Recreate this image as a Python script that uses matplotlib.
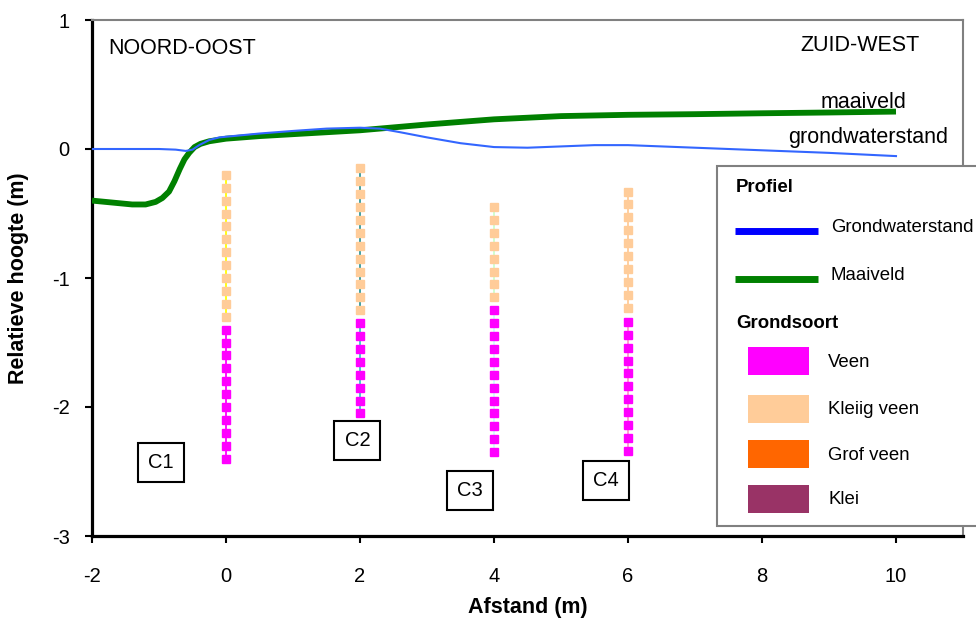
import matplotlib.pyplot as plt
from matplotlib.lines import Line2D
from matplotlib.patches import Rectangle

plt.rcParams["font.family"] = ["Liberation Sans", "DejaVu Sans"]
plt.rcParams["axes.unicode_minus"] = False

# maaiveld en grondwaterstand langs het profiel
afstand_gw = [-2, -1, -0.75, -0.6, -0.5, -0.4, -0.25, -0.1, 0.2, 0.5, 1, 1.5, 2, 2.3, 2.6, 3,
              3.5, 4, 4.5, 5, 5.5, 6, 7, 8, 9, 10]
grondwater = [0, 0, -0.005, -0.015, -0.005, 0.03, 0.07, 0.09, 0.105, 0.12, 0.14, 0.158, 0.165,
              0.158, 0.13, 0.09, 0.045, 0.015, 0.01, 0.02, 0.03, 0.03, 0.01, -0.01, -0.03,
              -0.055]

afstand_mv = [-2, -1.7, -1.4, -1.2, -1.05, -0.95, -0.85, -0.77, -0.69, -0.62, -0.55, -0.47,
              -0.38, -0.25, -0.1, 0, 0.5, 1, 2, 3, 4, 5, 6, 7, 8, 9, 10]
maaiveld = [-0.40, -0.415, -0.43, -0.43, -0.41, -0.38, -0.33, -0.25, -0.155, -0.08, -0.03,
            0.015, 0.04, 0.06, 0.072, 0.08, 0.10, 0.115, 0.145, 0.19, 0.23, 0.255, 0.265, 0.27,
            0.277, 0.283, 0.29]

# boringen: positie en diepte van de monsters per grondsoort
boringen = ["C1", "C2", "C3", "C4"]
boring_x = [0, 2, 4, 6]
kleiig_veen = [
    [-0.2, -0.3, -0.4, -0.5, -0.6, -0.7, -0.8, -0.9, -1.0, -1.1, -1.2, -1.3],
    [-0.15, -0.25, -0.35, -0.45, -0.55, -0.65, -0.75, -0.85, -0.95, -1.05, -1.15, -1.25],
    [-0.45, -0.55, -0.65, -0.75, -0.85, -0.95, -1.05, -1.15],
    [-0.33, -0.43, -0.53, -0.63, -0.73, -0.83, -0.93, -1.03, -1.13, -1.23],
]
veen = [
    [-1.4, -1.5, -1.6, -1.7, -1.8, -1.9, -2.0, -2.1, -2.2, -2.3, -2.4],
    [-1.35, -1.45, -1.55, -1.65, -1.75, -1.85, -1.95, -2.05],
    [-1.25, -1.35, -1.45, -1.55, -1.65, -1.75, -1.85, -1.95, -2.05, -2.15, -2.25, -2.35],
    [-1.34, -1.44, -1.54, -1.64, -1.74, -1.84, -1.94, -2.04, -2.14, -2.24, -2.34],
]
lijn_kleiig = ["#FFFF00", "#339999", "#CCFFCC", "#FFCC99"]
lijn_veen = ["#FF00FF", "#33CCCC", "#CCFFFF", "#FF99CC"]
label_x = [-0.97, 1.96, 3.64, 5.67]
label_y = [-2.43, -2.26, -2.65, -2.57]

W, H = 976, 624
fig = plt.figure(figsize=(W / 100, H / 100), dpi=100)
ax = fig.add_axes([92 / W, 1 - 536 / H, 871 / W, 516 / H])

for i in range(len(boringen)):
    xs = [boring_x[i]] * len(kleiig_veen[i])
    ax.plot(xs, kleiig_veen[i], color=lijn_kleiig[i], lw=1.3, marker="s", ms=5.5,
            mfc="#FFCC99", mec="#FFCC99", zorder=2)
    xs = [boring_x[i]] * len(veen[i])
    ax.plot(xs, veen[i], color=lijn_veen[i], lw=1.3, marker="s", ms=5.5,
            mfc="#FF00FF", mec="#FF00FF", zorder=2)
    ax.text(label_x[i], label_y[i], boringen[i], fontsize=14.5, ha="center", va="center",
            bbox=dict(boxstyle="square,pad=0.5", fc="white", ec="black", lw=1.5), zorder=4)

ax.plot(afstand_mv, maaiveld, color="#008000", lw=4.2, zorder=3, solid_capstyle="butt",
        solid_joinstyle="round")
ax.plot(afstand_gw, grondwater, color="#3366FF", lw=1.5, zorder=3.5, solid_joinstyle="round")

ax.text(-1.76, 0.78, "NOORD-OOST", fontsize=15.5, ha="left", va="center")
ax.text(10.36, 0.80, "ZUID-WEST", fontsize=15.5, ha="right", va="center")
ax.text(10.16, 0.36, "maaiveld", fontsize=15.5, ha="right", va="center")
ax.text(10.78, 0.09, "grondwaterstand", fontsize=15.5, ha="right", va="center")

ax.set_xlim(-2, 11)
ax.set_ylim(-3, 1)
ax.set_xticks([-2, 0, 2, 4, 6, 8, 10])
ax.set_yticks([-3, -2, -1, 0, 1])
ax.tick_params(direction="out", length=5, width=1.5, labelsize=14.5)
ax.tick_params(axis="x", pad=17)
ax.tick_params(axis="y", pad=11)
for s in ["left", "bottom"]:
    ax.spines[s].set_linewidth(2.3)
    ax.spines[s].set_color("black")
for s in ["top", "right"]:
    ax.spines[s].set_linewidth(1.5)
    ax.spines[s].set_color("#808080")

ax.set_xlabel("Afstand (m)", fontsize=15.5, fontweight="bold", va="center")
ax.xaxis.set_label_coords(0.5, (536 - 608) / 516)
ax.set_ylabel("Relatieve hoogte (m)", fontsize=15.5, fontweight="bold", va="center")
ax.yaxis.set_label_coords((19 - 92) / 871, 0.5)


# legenda, in pixels van de figuur
def px(x, y):
    return x / W, 1 - y / H


fig.add_artist(Rectangle(px(717, 526), 270 / W, 360 / H, transform=fig.transFigure,
                         fc="white", ec="#808080", lw=1.5, zorder=5))
fig.text(*px(736, 188), "Profiel", fontsize=13.4, fontweight="bold", va="center", zorder=6)
fig.text(*px(736, 323), "Grondsoort", fontsize=13.4, fontweight="bold", va="center", zorder=6)

profiel = [("Grondwaterstand", "#0000FF", 231, 228), ("Maaiveld", "#008000", 279, 275)]
for naam, kleur, ly, ty in profiel:
    x0, y0 = px(735, ly)
    x1, _ = px(818, ly)
    fig.add_artist(Line2D([x0, x1], [y0, y0], transform=fig.transFigure, color=kleur,
                          lw=5, solid_capstyle="butt", zorder=6))
    fig.text(*px(831, ty), naam, fontsize=13.4, va="center", zorder=6)

grondsoorten = [("Veen", "#FF00FF", 347), ("Kleiig veen", "#FFCC99", 395),
                ("Grof veen", "#FF6600", 440), ("Klei", "#993366", 485)]
for naam, kleur, top in grondsoorten:
    fig.add_artist(Rectangle(px(748, top + 28), 61 / W, 28 / H, transform=fig.transFigure,
                             fc=kleur, ec="none", zorder=6))
    fig.text(*px(828, top + 15), naam, fontsize=13.4, va="center", zorder=6)

plt.savefig("out.png", dpi=100)
